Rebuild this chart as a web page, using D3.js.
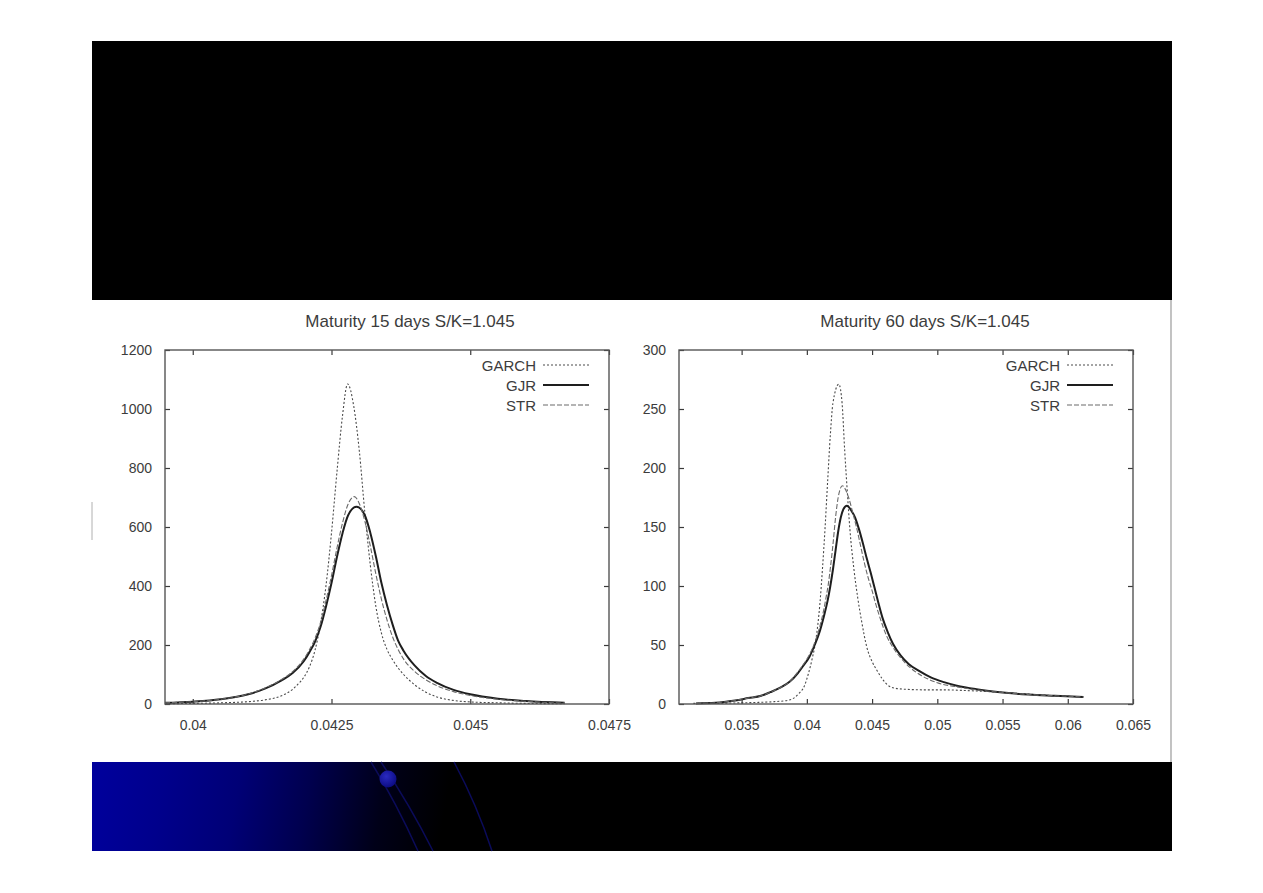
<!DOCTYPE html>
<html>
<head>
<meta charset="utf-8">
<script src="https://cdn.jsdelivr.net/npm/d3@7"></script>
<style>
  html, body { margin: 0; padding: 0; background: #fff; }
  svg { display: block; }
</style>
</head>
<body>
<div id="slide"></div>
<script>
// Panel titles and series names
const titles = ["Maturity 15 days S/K=1.045", "Maturity 60 days S/K=1.045"];
const seriesNames = ["GARCH", "GJR", "STR"];

// Tick values
const xTicks15 = [0.04, 0.0425, 0.045, 0.0475];
const yTicks15 = [0, 200, 400, 600, 800, 1000, 1200];
const xTicks60 = [0.035, 0.04, 0.045, 0.05, 0.055, 0.06, 0.065];
const yTicks60 = [0, 50, 100, 150, 200, 250, 300];

// 15 days density curves, [x, density]
const garch15 = [[0.0395,1],[0.0400,2],[0.0405,4],[0.0410,8],[0.0413,14],[0.0416,28],[0.0418,50],
  [0.0419,68],[0.0420,90],[0.0421,125],[0.0422,180],[0.0423,270],[0.0424,400],[0.0425,580],
  [0.0426,790],[0.0427,980],[0.04279,1085],[0.0429,1010],[0.0430,860],[0.0431,650],[0.0432,470],
  [0.0433,330],[0.0434,240],[0.0435,185],[0.0436,150],[0.0437,122],[0.0438,100],[0.0440,65],
  [0.0442,40],[0.0444,24],[0.0447,12],[0.0450,7],[0.0455,4],[0.0460,2],[0.0467,1]];
const gjr15 = [[0.0395,4],[0.0400,8],[0.0405,16],[0.0410,33],[0.0413,52],[0.0416,80],[0.0418,105],
  [0.0420,145],[0.0421,175],[0.0422,210],[0.0423,260],[0.0424,330],[0.0425,410],[0.0426,500],
  [0.0427,580],[0.0428,640],[0.04295,669],[0.0431,640],[0.0432,580],[0.0433,500],[0.0434,410],
  [0.0435,335],[0.0436,270],[0.0437,215],[0.0438,180],[0.0440,130],[0.0442,95],[0.0444,72],
  [0.0447,48],[0.0450,33],[0.0455,18],[0.0460,10],[0.0467,4]];
const str15 = [[0.0395,4],[0.0400,8],[0.0405,16],[0.0410,34],[0.0413,54],[0.0416,83],[0.0418,110],
  [0.0420,152],[0.0421,183],[0.0422,222],[0.0423,275],[0.0424,350],[0.0425,435],[0.0426,530],
  [0.0427,615],[0.0428,678],[0.04291,703],[0.0430,680],[0.0431,620],[0.0432,535],[0.0433,440],
  [0.0434,355],[0.0435,285],[0.0436,228],[0.0437,185],[0.0438,152],[0.0440,110],[0.0442,82],
  [0.0444,62],[0.0447,42],[0.0450,29],[0.0455,16],[0.0460,9],[0.0467,3]];

// 60 days density curves
const garch60 = [[0.0313,0.5],[0.0350,1],[0.0375,2],[0.0385,3],[0.0390,5],[0.0394,9],[0.0398,15],
  [0.0401,25],[0.0404,38],[0.0407,55],[0.0410,85],[0.0412,115],[0.0414,150],[0.0416,190],
  [0.0418,228],[0.0420,255],[0.04245,271],[0.0427,255],[0.0429,215],[0.0431,180],[0.0433,148],
  [0.0436,115],[0.0439,90],[0.0442,70],[0.0446,48],[0.0450,36],[0.0454,28],[0.0458,21],
  [0.0462,16],[0.0467,13.5],[0.0475,12.5],[0.0490,12],[0.0505,12],[0.0520,11.5],[0.0540,10.5],
  [0.0560,9],[0.0590,7],[0.0612,6]];
const gjr60 = [[0.0315,0.5],[0.0330,1],[0.0345,3],[0.0355,5],[0.0365,7],[0.0372,10],[0.0380,14],
  [0.0387,19],[0.0393,26],[0.0397,32],[0.0402,40],[0.0406,50],[0.0410,62],[0.0413,74],[0.0416,88],
  [0.0418,100],[0.0420,114],[0.0422,130],[0.0424,146],[0.0426,158],[0.0428,165],[0.04307,168],
  [0.0434,164],[0.0437,158],[0.0440,148],[0.0443,136],[0.0446,123],[0.0449,111],[0.0452,98],
  [0.0455,85],[0.0458,73],[0.0462,61],[0.0466,51],[0.0472,41],[0.0478,34],[0.0486,28],
  [0.0495,22.5],[0.0505,18.5],[0.0515,15.5],[0.0530,12.5],[0.0548,10],[0.0570,8],[0.0590,7],
  [0.0612,6]];
const str60 = [[0.0315,0.5],[0.0330,1],[0.0345,3],[0.0355,5],[0.0365,7],[0.0372,10],[0.0380,14],
  [0.0387,19],[0.0393,27],[0.0397,33],[0.0402,42],[0.0406,52],[0.0410,66],[0.0413,80],[0.0415,92],
  [0.04165,102],[0.0418,115],[0.0420,135],[0.0422,158],[0.0424,175],[0.04255,182],[0.04272,185],
  [0.0429,183],[0.0432,175],[0.0435,163],[0.0438,150],[0.0441,135],[0.0444,120],[0.0447,107],
  [0.0450,96],[0.0453,84],[0.0457,70],[0.0461,58],[0.0466,48],[0.0472,39],[0.0479,31],[0.0488,24],
  [0.0500,18],[0.0515,14.5],[0.0530,12],[0.0548,10],[0.0570,8],[0.0590,7],[0.0612,6]];

const W = 1263, H = 893;
const font = "'Liberation Sans', Arial, Helvetica, sans-serif";
const textColor = "#3c3c3c";

const svg = d3.select("#slide").append("svg")
  .attr("width", W)
  .attr("height", H)
  .attr("viewBox", [0, 0, W, H]);

// slide background pieces
svg.append("rect").attr("x", 92).attr("y", 41).attr("width", 1080).attr("height", 259).attr("fill", "#000");
svg.append("rect").attr("x", 92).attr("y", 300).attr("width", 1080).attr("height", 462).attr("fill", "#fff");
svg.append("line").attr("x1", 1171).attr("x2", 1171).attr("y1", 300).attr("y2", 762)
  .attr("stroke", "#9a9a9a").attr("stroke-width", 1.2);
svg.append("line").attr("x1", 92).attr("x2", 92).attr("y1", 502).attr("y2", 540)
  .attr("stroke", "#b0b0b0").attr("stroke-width", 1);

const defs = svg.append("defs");
const grad = defs.append("linearGradient").attr("id", "band")
  .attr("gradientUnits", "userSpaceOnUse")
  .attr("x1", 92).attr("y1", 780).attr("x2", 440).attr("y2", 840);
grad.selectAll("stop")
  .data([[0, "#00009c"], [0.2, "#00008c"], [0.41, "#000076"], [0.61, "#00004e"], [0.82, "#000018"], [1, "#000"]])
  .join("stop")
  .attr("offset", d => d[0])
  .attr("stop-color", d => d[1]);
const ball = defs.append("radialGradient").attr("id", "ball").attr("cx", 0.4).attr("cy", 0.35).attr("r", 0.7);
ball.append("stop").attr("offset", 0).attr("stop-color", "#2a2ac0");
ball.append("stop").attr("offset", 1).attr("stop-color", "#0a0a80");

svg.append("rect").attr("x", 92).attr("y", 762).attr("width", 1080).attr("height", 89).attr("fill", "url(#band)");
const arcs = svg.append("g").attr("fill", "none").attr("stroke", "#0b0b5a").attr("stroke-width", 1.5);
arcs.append("path").attr("d", "M371,762 Q396,802 418,851");
arcs.append("path").attr("d", "M381,762 Q410,805 433,851");
arcs.append("path").attr("d", "M454,762 Q477,805 492,851");
svg.append("circle").attr("cx", 388).attr("cy", 779).attr("r", 8.5).attr("fill", "url(#ball)");

// line styles per series
const styles = {
  GARCH: { stroke: "#4a4a4a", width: 1.1, dash: "2,2" },
  GJR:   { stroke: "#1e1e1e", width: 2,   dash: null },
  STR:   { stroke: "#6a6a6a", width: 1.1, dash: "5,2" }
};

function drawPanel(p) {
  const x = d3.scaleLinear().domain(p.xDomain).range([p.left, p.right]);
  const y = d3.scaleLinear().domain(p.yDomain).range([p.bottom, p.top]);
  const g = svg.append("g");

  const line = d3.line()
    .x(d => x(d[0]))
    .y(d => y(d[1]))
    .curve(d3.curveMonotoneX);

  // curves
  p.series.forEach((s, i) => {
    const st = styles[seriesNames[i]];
    g.append("path")
      .datum(s)
      .attr("fill", "none")
      .attr("stroke", st.stroke)
      .attr("stroke-width", st.width)
      .attr("stroke-dasharray", st.dash)
      .attr("d", line);
  });

  // axes with inward ticks, mirrored
  const tickLen = 5;
  g.append("g")
    .attr("transform", `translate(0,${p.bottom})`)
    .call(d3.axisBottom(x).tickValues(p.xTicks).tickSize(-tickLen).tickPadding(16).tickFormat(d3.format("")))
    .call(a => a.select(".domain").remove());
  g.append("g")
    .attr("transform", `translate(0,${p.top})`)
    .call(d3.axisTop(x).tickValues(p.xTicks).tickSize(-tickLen).tickFormat(""))
    .call(a => a.select(".domain").remove());
  g.append("g")
    .attr("transform", `translate(${p.left},0)`)
    .call(d3.axisLeft(y).tickValues(p.yTicks).tickSize(-tickLen).tickPadding(13).tickFormat(d3.format("d")))
    .call(a => a.select(".domain").remove());
  g.append("g")
    .attr("transform", `translate(${p.right},0)`)
    .call(d3.axisRight(y).tickValues(p.yTicks).tickSize(-tickLen).tickFormat(""))
    .call(a => a.select(".domain").remove());

  g.selectAll(".tick line").attr("stroke", "#3a3a3a").attr("stroke-width", 1.2);
  g.selectAll(".tick text")
    .attr("fill", textColor)
    .style("font-family", font)
    .style("font-size", "14px");

  // frame
  g.append("rect")
    .attr("x", p.left).attr("y", p.top)
    .attr("width", p.right - p.left).attr("height", p.bottom - p.top)
    .attr("fill", "none").attr("stroke", "#555").attr("stroke-width", 1.4);

  // title
  g.append("text")
    .attr("x", p.titleX).attr("y", 327)
    .attr("text-anchor", "middle")
    .attr("fill", textColor)
    .style("font-family", font)
    .style("font-size", "17px")
    .text(p.title);

  // legend
  const leg = g.append("g");
  seriesNames.forEach((name, i) => {
    const st = styles[name];
    const cy = p.top + 15 + i * 20;
    leg.append("text")
      .attr("x", p.right - 73).attr("y", cy + 5.5)
      .attr("text-anchor", "end")
      .attr("fill", textColor)
      .style("font-family", font)
      .style("font-size", "15px")
      .text(name);
    leg.append("line")
      .attr("x1", p.right - 66).attr("x2", p.right - 20)
      .attr("y1", cy).attr("y2", cy)
      .attr("stroke", st.stroke)
      .attr("stroke-width", st.width)
      .attr("stroke-dasharray", st.dash);
  });
}

drawPanel({
  title: titles[0], titleX: 410,
  left: 165, right: 609, top: 350, bottom: 704,
  xDomain: [0.0395, 0.0475], yDomain: [0, 1200],
  xTicks: xTicks15, yTicks: yTicks15,
  series: [garch15, gjr15, str15]
});

drawPanel({
  title: titles[1], titleX: 925,
  left: 679, right: 1133, top: 350, bottom: 704,
  xDomain: [0.0302, 0.065], yDomain: [0, 300],
  xTicks: xTicks60, yTicks: yTicks60,
  series: [garch60, gjr60, str60]
});
</script>
</body>
</html>
